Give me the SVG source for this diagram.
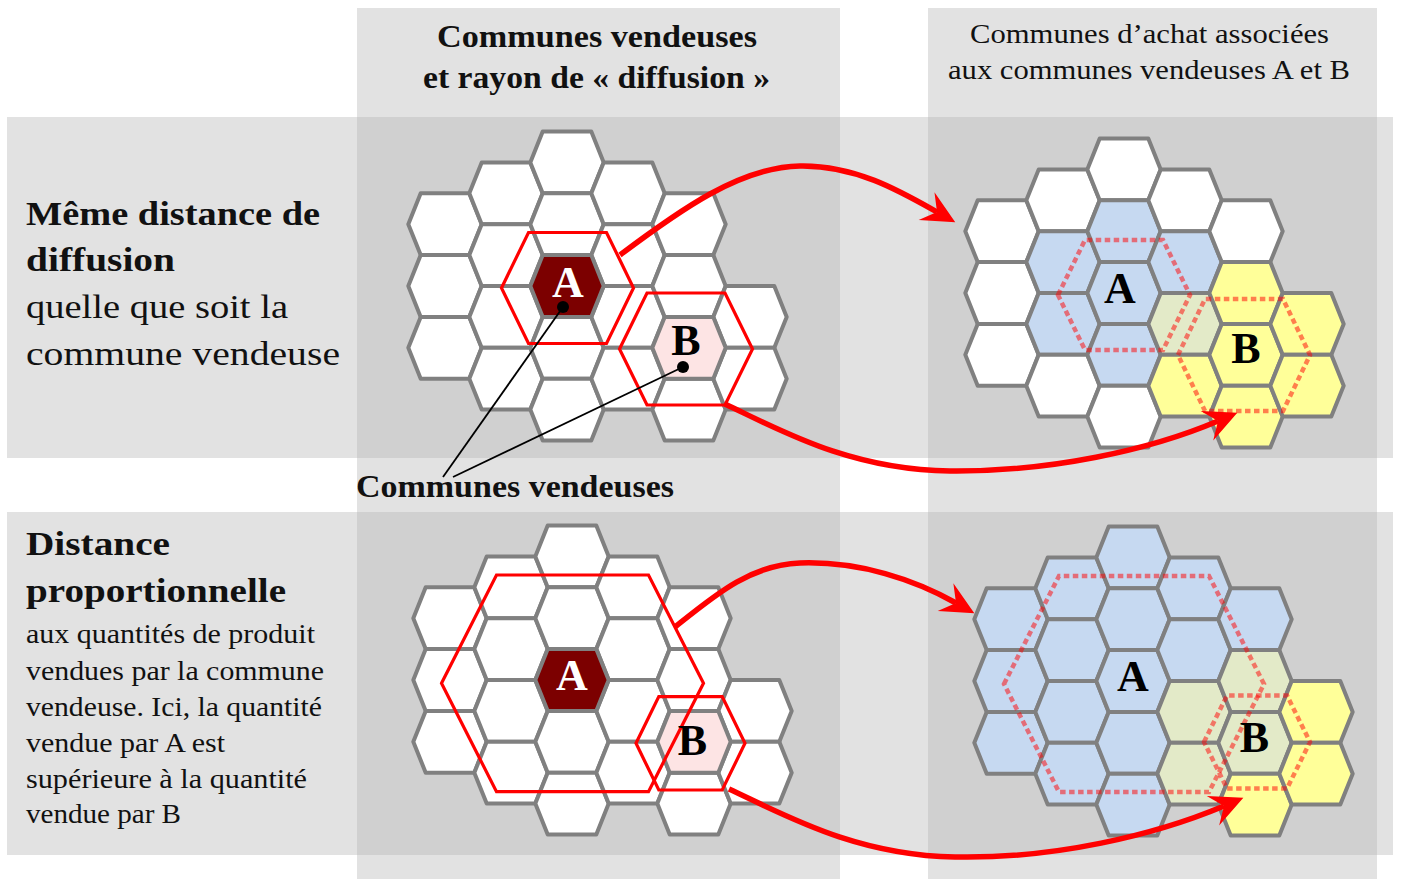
<svg xmlns="http://www.w3.org/2000/svg" xmlns:xlink="http://www.w3.org/1999/xlink" width="1402" height="879" viewBox="0 0 1402 879">
<style>
.bgl{fill:#e2e2e2}
.bgd{fill:#d0d0d0}
.c{stroke:#808080;stroke-width:4;stroke-linejoin:round}
.w{fill:#ffffff}
.b{fill:#c6d9f1}
.y{fill:#ffff99}
.g{fill:#e3eac8}
.da{fill:#7c0000}
.pk{fill:#fde4e4}
.red{fill:none;stroke:#ff0000;stroke-width:3.2;stroke-linejoin:miter}
.dot{fill:none;stroke:#ff0000;stroke-opacity:0.5;stroke-width:4.5;stroke-dasharray:5.5 3.5}
.arrow{fill:none;stroke:#ff0000;stroke-width:5.5;marker-end:url(#ah)}
.lead{fill:none;stroke:#000;stroke-width:1.8}
.t{font-family:"Liberation Serif","Times New Roman",serif;fill:#111}
.bd{font-weight:bold}
.L{font-family:"Liberation Serif","Times New Roman",serif;font-weight:bold;font-size:44px;text-anchor:middle}
</style>
<defs>
<path id="hx" d="M-36.7,0 L-24.3,-30.9 L24.3,-30.9 L36.7,0 L24.3,30.9 L-24.3,30.9 Z"/>
<marker id="ah" markerUnits="userSpaceOnUse" orient="auto" markerWidth="40" markerHeight="40" viewBox="0 0 40 40" refX="12" refY="16" overflow="visible">
<path d="M0,0 L33,16 L0,32 L12,16 Z" fill="#ff0000"/>
</marker>
</defs>

<g id="background">
<rect class="bgl" x="357" y="8" width="483" height="871"/>
<rect class="bgl" x="928" y="8" width="449" height="871"/>
<rect class="bgl" x="7" y="117" width="1386" height="341"/>
<rect class="bgl" x="7" y="512" width="1386" height="343"/>
<rect class="bgd" x="357" y="117" width="483" height="341"/>
<rect class="bgd" x="928" y="117" width="449" height="341"/>
<rect class="bgd" x="357" y="512" width="483" height="343"/>
<rect class="bgd" x="928" y="512" width="449" height="343"/>
</g>

<g id="grid-top-left" transform="translate(567,286)">
<use href="#hx" class="c w" x="-122" y="-61.8"/><use href="#hx" class="c w" x="-122" y="0"/><use href="#hx" class="c w" x="-122" y="61.8"/>
<use href="#hx" class="c w" x="-61" y="-92.7"/><use href="#hx" class="c w" x="-61" y="-30.9"/><use href="#hx" class="c w" x="-61" y="30.9"/><use href="#hx" class="c w" x="-61" y="92.7"/>
<use href="#hx" class="c w" x="0" y="-123.6"/><use href="#hx" class="c w" x="0" y="-61.8"/><use href="#hx" class="c w" x="0" y="61.8"/><use href="#hx" class="c w" x="0" y="123.6"/>
<use href="#hx" class="c w" x="61" y="-92.7"/><use href="#hx" class="c w" x="61" y="-30.9"/><use href="#hx" class="c w" x="61" y="30.9"/><use href="#hx" class="c w" x="61" y="92.7"/>
<use href="#hx" class="c w" x="122" y="-61.8"/><use href="#hx" class="c w" x="122" y="0"/><use href="#hx" class="c w" x="122" y="123.6"/>
<use href="#hx" class="c w" x="183" y="30.9"/><use href="#hx" class="c w" x="183" y="92.7"/>
<use href="#hx" class="c da" x="0" y="0"/>
<use href="#hx" class="c pk" x="122" y="61.8"/>
</g>
<g id="zones-top-left">
<polygon class="red" points="501.5,288 528.5,232.5 606.5,232.5 633.5,288 606.5,343.5 528.5,343.5"/>
<polygon class="red" points="619.5,349 647,293 725,293 752.5,349 725,405 647,405"/>
</g>
<g id="node-A1"><text class="L" x="568" y="297" fill="#ffffff">A</text></g>
<g id="node-B1"><text class="L" x="686" y="355" fill="#000">B</text></g>

<g id="grid-top-right" transform="translate(1124,293)">
<use href="#hx" class="c w" x="-122" y="-61.8"/><use href="#hx" class="c w" x="-122" y="0"/><use href="#hx" class="c w" x="-122" y="61.8"/>
<use href="#hx" class="c w" x="-61" y="-92.7"/><use href="#hx" class="c b" x="-61" y="-30.9"/><use href="#hx" class="c b" x="-61" y="30.9"/><use href="#hx" class="c w" x="-61" y="92.7"/>
<use href="#hx" class="c w" x="0" y="-123.6"/><use href="#hx" class="c b" x="0" y="-61.8"/><use href="#hx" class="c b" x="0" y="0"/><use href="#hx" class="c b" x="0" y="61.8"/><use href="#hx" class="c w" x="0" y="123.6"/>
<use href="#hx" class="c w" x="61" y="-92.7"/><use href="#hx" class="c b" x="61" y="-30.9"/><use href="#hx" class="c g" x="61" y="30.9"/><use href="#hx" class="c y" x="61" y="92.7"/>
<use href="#hx" class="c w" x="122" y="-61.8"/><use href="#hx" class="c y" x="122" y="0"/><use href="#hx" class="c y" x="122" y="61.8"/><use href="#hx" class="c y" x="122" y="123.6"/>
<use href="#hx" class="c y" x="183" y="30.9"/><use href="#hx" class="c y" x="183" y="92.7"/>
</g>
<g id="zones-top-right">
<polygon class="dot" points="1058,295 1085,240 1163,240 1190,295 1163,350 1085,350"/>
<polygon class="dot" points="1178,355 1205,299 1283,299 1310,355 1283,411 1205,411"/>
</g>
<g id="node-A2"><text class="L" x="1120" y="303" fill="#000">A</text></g>
<g id="node-B2"><text class="L" x="1246" y="363" fill="#000">B</text></g>

<g id="grid-bottom-left" transform="translate(572,680)">
<use href="#hx" class="c w" x="-122" y="-61.8"/><use href="#hx" class="c w" x="-122" y="0"/><use href="#hx" class="c w" x="-122" y="61.8"/>
<use href="#hx" class="c w" x="-61" y="-92.7"/><use href="#hx" class="c w" x="-61" y="-30.9"/><use href="#hx" class="c w" x="-61" y="30.9"/><use href="#hx" class="c w" x="-61" y="92.7"/>
<use href="#hx" class="c w" x="0" y="-123.6"/><use href="#hx" class="c w" x="0" y="-61.8"/><use href="#hx" class="c w" x="0" y="61.8"/><use href="#hx" class="c w" x="0" y="123.6"/>
<use href="#hx" class="c w" x="61" y="-92.7"/><use href="#hx" class="c w" x="61" y="-30.9"/><use href="#hx" class="c w" x="61" y="30.9"/><use href="#hx" class="c w" x="61" y="92.7"/>
<use href="#hx" class="c w" x="122" y="-61.8"/><use href="#hx" class="c w" x="122" y="0"/><use href="#hx" class="c w" x="122" y="123.6"/>
<use href="#hx" class="c w" x="183" y="30.9"/><use href="#hx" class="c w" x="183" y="92.7"/>
<use href="#hx" class="c da" x="0" y="0"/>
<use href="#hx" class="c pk" x="122" y="61.8"/>
</g>
<g id="zones-bottom-left">
<polygon class="red" points="441.5,683.3 496.5,575 648.5,575 703.5,683.3 648.5,791.6 496.5,791.6"/>
<polygon class="red" points="636,743.3 658.8,696.6 722.2,696.6 745,743.3 722.2,790 658.8,790"/>
</g>
<g id="node-A3"><text class="L" x="572" y="690" fill="#ffffff">A</text></g>
<g id="node-B3"><text class="L" x="692.5" y="755" fill="#000">B</text></g>

<g id="grid-bottom-right" transform="translate(1133,681)">
<use href="#hx" class="c b" x="-122" y="-61.8"/><use href="#hx" class="c b" x="-122" y="0"/><use href="#hx" class="c b" x="-122" y="61.8"/>
<use href="#hx" class="c b" x="-61" y="-92.7"/><use href="#hx" class="c b" x="-61" y="-30.9"/><use href="#hx" class="c b" x="-61" y="30.9"/><use href="#hx" class="c b" x="-61" y="92.7"/>
<use href="#hx" class="c b" x="0" y="-123.6"/><use href="#hx" class="c b" x="0" y="-61.8"/><use href="#hx" class="c b" x="0" y="0"/><use href="#hx" class="c b" x="0" y="61.8"/><use href="#hx" class="c b" x="0" y="123.6"/>
<use href="#hx" class="c b" x="61" y="-92.7"/><use href="#hx" class="c b" x="61" y="-30.9"/><use href="#hx" class="c g" x="61" y="30.9"/><use href="#hx" class="c g" x="61" y="92.7"/>
<use href="#hx" class="c b" x="122" y="-61.8"/><use href="#hx" class="c g" x="122" y="0"/><use href="#hx" class="c g" x="122" y="61.8"/><use href="#hx" class="c y" x="122" y="123.6"/>
<use href="#hx" class="c y" x="183" y="30.9"/><use href="#hx" class="c y" x="183" y="92.7"/>
</g>
<g id="zones-bottom-right">
<polygon class="dot" points="1004,684 1059,576 1209,576 1264,684 1209,792 1059,792"/>
<polygon class="dot" points="1204,742 1227,695.5 1287,695.5 1310,742 1287,788.5 1227,788.5"/>
</g>
<g id="node-A4"><text class="L" x="1133" y="691" fill="#000">A</text></g>
<g id="node-B4"><text class="L" x="1254.5" y="752" fill="#000">B</text></g>

<g id="connectors">
<circle cx="563" cy="307" r="6" fill="#000"/>
<circle cx="683" cy="367" r="6" fill="#000"/>
<line class="lead" x1="563" y1="307" x2="443" y2="477"/>
<line class="lead" x1="683" y1="367" x2="453" y2="477"/>
<path class="arrow" d="M620,255 C680,210 740,167 800,166 C855,165 900,191 937,212"/>
<path class="arrow" d="M725,404 C780,430 850,470 950,471 C1050,472 1150,450 1218,421"/>
<path class="arrow" d="M675,627 C715,595 750,565 800,563 C860,561 915,580 956,603"/>
<path class="arrow" d="M729,789 C785,815 855,855 955,857 C1055,859 1155,835 1224,806"/>
</g>

<g id="header-left">
<text class="t bd" x="437" y="47" font-size="31" textLength="320" lengthAdjust="spacingAndGlyphs">Communes vendeuses</text>
<text class="t bd" x="423" y="88" font-size="31" textLength="347" lengthAdjust="spacingAndGlyphs">et rayon de « diffusion »</text>
</g>
<g id="header-right">
<text class="t" x="970" y="43" font-size="27" textLength="359" lengthAdjust="spacingAndGlyphs">Communes d’achat associées</text>
<text class="t" x="948" y="79" font-size="27" textLength="402" lengthAdjust="spacingAndGlyphs">aux communes vendeuses A et B</text>
</g>
<g id="label-row1">
<text class="t bd" x="26" y="225" font-size="33" textLength="294" lengthAdjust="spacingAndGlyphs">Même distance de</text>
<text class="t bd" x="26" y="271" font-size="33" textLength="149" lengthAdjust="spacingAndGlyphs">diffusion</text>
<text class="t" x="26" y="318" font-size="33" textLength="262" lengthAdjust="spacingAndGlyphs">quelle que soit la</text>
<text class="t" x="26" y="365" font-size="33" textLength="314" lengthAdjust="spacingAndGlyphs">commune vendeuse</text>
</g>
<g id="label-row2">
<text class="t bd" x="26" y="555" font-size="33" textLength="144" lengthAdjust="spacingAndGlyphs">Distance</text>
<text class="t bd" x="26" y="602" font-size="33" textLength="260" lengthAdjust="spacingAndGlyphs">proportionnelle</text>
<text class="t" x="26" y="643" font-size="27" textLength="289" lengthAdjust="spacingAndGlyphs">aux quantités de produit</text>
<text class="t" x="26" y="680" font-size="27" textLength="298" lengthAdjust="spacingAndGlyphs">vendues par la commune</text>
<text class="t" x="26" y="716" font-size="27" textLength="296" lengthAdjust="spacingAndGlyphs">vendeuse. Ici, la quantité</text>
<text class="t" x="26" y="752" font-size="27" textLength="199" lengthAdjust="spacingAndGlyphs">vendue par A est</text>
<text class="t" x="26" y="788" font-size="27" textLength="281" lengthAdjust="spacingAndGlyphs">supérieure à la quantité</text>
<text class="t" x="26" y="823" font-size="27" textLength="155" lengthAdjust="spacingAndGlyphs">vendue par B</text>
</g>
<g id="label-communes-vendeuses">
<text class="t bd" x="356" y="497" font-size="31" textLength="318" lengthAdjust="spacingAndGlyphs">Communes vendeuses</text>
</g>
</svg>
